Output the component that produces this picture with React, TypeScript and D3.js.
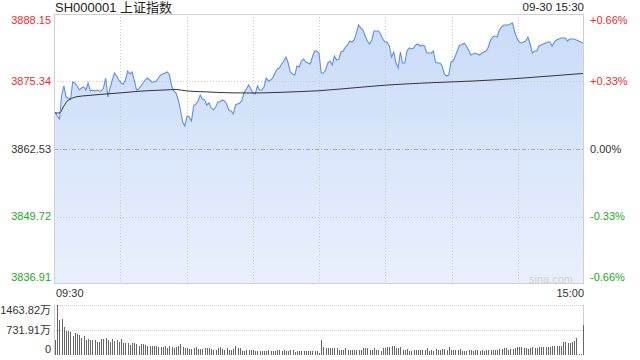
import React from "react";
import * as d3 from "d3";

const title = "SH000001 上证指数";
const stamp = "09-30 15:30";
const prevClose = 3862.53;
const priceTicks = [3888.15, 3875.34, 3862.53, 3849.72, 3836.91];
const pctTicks = ["+0.66%", "+0.33%", "0.00%", "-0.33%", "-0.66%"];
const timeLabels = ["09:30", "15:00"];
const volTicks = [1463.82, 731.91, 0];
const volTickLabels = ["1463.82万", "731.91万", "0"];

const prices = [
  3869.55, 3868.79, 3868.22, 3872.78, 3874.49, 3872.40, 3872.21, 3871.83, 3875.25, 3875.06,
  3874.49, 3873.73, 3874.11, 3874.30, 3873.73, 3875.06, 3873.54, 3873.73, 3873.54, 3873.73,
  3873.54, 3873.54, 3874.11, 3876.00, 3872.40, 3874.11, 3875.62, 3876.95, 3876.38, 3875.62,
  3875.06, 3874.87, 3875.62, 3877.33, 3876.76, 3877.14, 3875.62, 3873.73, 3873.92, 3874.49,
  3875.06, 3875.62, 3876.00, 3875.62, 3875.25, 3875.25, 3875.43, 3876.00, 3876.57, 3876.76,
  3876.95, 3877.14, 3876.57, 3874.49, 3873.54, 3873.16, 3871.83, 3869.93, 3867.65, 3866.89,
  3868.79, 3868.60, 3867.84, 3870.69, 3871.07, 3871.64, 3872.78, 3872.02, 3871.83, 3870.88,
  3871.26, 3870.31, 3869.93, 3870.50, 3871.45, 3871.45, 3871.83, 3871.64, 3871.07, 3869.93,
  3869.74, 3869.17, 3870.88, 3871.07, 3871.26, 3871.83, 3873.35, 3873.92, 3874.68, 3873.92,
  3873.16, 3872.97, 3874.49, 3873.73, 3873.73, 3874.30, 3876.00, 3875.43, 3875.62, 3876.00,
  3876.95, 3877.71, 3877.90, 3878.66, 3879.23, 3879.99, 3878.85, 3877.14, 3876.76, 3876.57,
  3878.28, 3878.09, 3879.23, 3879.61, 3879.04, 3878.85, 3878.66, 3879.99, 3881.13, 3881.13,
  3880.75, 3876.95, 3876.95, 3877.52, 3878.85, 3879.23, 3878.47, 3880.18, 3879.42, 3879.61,
  3880.94, 3881.13, 3881.89, 3882.27, 3883.03, 3882.84, 3883.22, 3884.54, 3886.06, 3885.49,
  3885.11, 3883.97, 3883.03, 3882.46, 3883.22, 3884.92, 3884.92, 3884.92, 3884.35, 3883.41,
  3882.84, 3882.84, 3882.08, 3879.99, 3880.94, 3878.85, 3877.90, 3880.94, 3878.85, 3878.85,
  3881.13, 3881.70, 3881.51, 3881.70, 3882.27, 3882.46, 3882.08, 3882.27, 3882.08, 3880.75,
  3880.75, 3880.75, 3881.13, 3879.04, 3878.85, 3878.85, 3878.28, 3876.76, 3876.38, 3876.57,
  3879.04, 3879.23, 3880.18, 3881.32, 3882.27, 3882.27, 3882.65, 3882.08, 3881.32, 3880.37,
  3880.56, 3880.75, 3880.56, 3880.37, 3880.75, 3880.94, 3881.13, 3881.89, 3883.22, 3883.78,
  3883.97, 3883.78, 3885.11, 3885.68, 3886.06, 3886.06, 3886.06, 3886.25, 3886.44, 3884.73,
  3883.60, 3882.84, 3882.65, 3882.84, 3883.03, 3883.78, 3882.46, 3880.75, 3881.13, 3881.13,
  3882.08, 3882.27, 3882.46, 3882.65, 3882.84, 3882.84, 3882.08, 3882.84, 3883.22, 3883.41,
  3883.60, 3883.60, 3883.60, 3883.03, 3883.41, 3883.41, 3883.41, 3883.22, 3883.03, 3882.84,
  3882.65,
];

const avgMinutes = [0, 2, 4, 6, 8, 10, 15, 20, 30, 40, 50, 55, 60, 70, 80, 90, 100, 110, 120, 130, 150, 170, 190, 210, 225, 240];
const avgValues = [
  3869.36, 3869.36, 3870.69, 3871.83, 3872.21, 3872.46, 3872.68, 3872.87, 3873.19, 3873.54,
  3873.73, 3873.82, 3873.54, 3873.35, 3873.19, 3873.16, 3873.25, 3873.40, 3873.59, 3873.92,
  3874.64, 3875.09, 3875.43, 3875.91, 3876.38, 3876.86,
];

const volumes = [
  440, 1463.82, 1025, 1063, 820, 703, 703, 673, 556, 635,
  605, 577, 489, 556, 439, 477, 439, 450, 439, 390,
  390, 460, 477, 507, 439, 381, 460, 420, 439, 381,
  477, 361, 342, 342, 293, 342, 342, 322, 273, 312,
  312, 293, 254, 254, 254, 273, 273, 224, 224, 244,
  273, 195, 273, 244, 195, 224, 273, 322, 224, 195,
  195, 176, 176, 195, 224, 176, 176, 176, 195, 195,
  195, 176, 156, 156, 195, 224, 176, 156, 195, 156,
  156, 176, 254, 195, 195, 127, 127, 156, 156, 156,
  156, 127, 127, 127, 127, 127, 127, 156, 127, 127,
  127, 156, 156, 127, 156, 127, 127, 156, 156, 98,
  127, 127, 127, 127, 127, 127, 127, 127, 127, 127,
  49, 449, 224, 195, 195, 195, 195, 195, 195, 156,
  156, 156, 195, 156, 156, 156, 156, 156, 156, 156,
  195, 195, 195, 156, 156, 195, 156, 156, 127, 195,
  195, 224, 224, 254, 254, 195, 195, 224, 156, 156,
  176, 127, 127, 156, 156, 156, 156, 156, 156, 205,
  127, 156, 127, 176, 156, 156, 176, 176, 156, 244,
  156, 156, 156, 156, 176, 127, 127, 127, 156, 156,
  127, 156, 156, 127, 156, 127, 156, 156, 156, 156,
  156, 156, 176, 176, 195, 195, 156, 176, 176, 195,
  244, 224, 224, 195, 195, 176, 195, 244, 205, 205,
  244, 244, 244, 224, 244, 244, 273, 254, 254, 254,
  273, 390, 371, 342, 352, 371, 420, 507, 20, 30,
  880,
];

const W = 640;
const H = 360;
const L = 54;
const R = 584;
const T = 14;
const B = 284;
const VT = 305;
const VB = 355;
const FONT = "'Liberation Sans', Arial, 'Noto Sans CJK SC', sans-serif";
const RED = "#f02b2b";
const GREEN = "#1ea81e";
const GRID = "#cccccc";

const crisp = (v: number) => Math.round(v) + 0.5;

export default function App() {
  const x = d3.scaleLinear().domain([-0.5, prices.length - 0.5]).range([L, R]);
  const y = d3.scaleLinear().domain([priceTicks[4], priceTicks[0]]).range([B, T]);
  const vy = d3.scaleLinear().domain([0, volTicks[0]]).range([VB, VT]);
  const gx = d3.scaleLinear().domain([0, 8]).range([L, R]);

  const line = d3.line<number>().x((_, i) => x(i)).y((d) => y(d));
  const area = d3.area<number>().x((_, i) => x(i)).y0(B).y1((d) => y(d));
  const avgLine = d3
    .line<number>()
    .x((_, i) => x(avgMinutes[i]))
    .y((d) => y(d))
    .curve(d3.curveMonotoneX);

  const colorFor = (v: number) => (v > prevClose ? RED : v < prevClose ? GREEN : "#333");

  return (
    <div style={{ position: "absolute", left: 0, top: 0 }}>
      <svg width={W} height={H} style={{ display: "block", fontFamily: FONT }}>
        <defs>
          <linearGradient id="fillg" x1="0" y1={T} x2="0" y2={B} gradientUnits="userSpaceOnUse">
            <stop offset="0" stopColor="#c9dbf8" />
            <stop offset="1" stopColor="#e9f0fc" />
          </linearGradient>
        </defs>
        <rect x={0} y={0} width={W} height={H} fill="#fff" />

        <text x={55} y={12} fontSize={13} fill="#222">{title}</text>
        <text x={R} y={11} fontSize={11.5} fill="#222" textAnchor="end">{stamp}</text>

        <path d={area(prices) || ""} fill="url(#fillg)" />

        {d3.range(1, 8).map((k) => (
          <line key={"vg" + k} x1={crisp(gx(k))} x2={crisp(gx(k))} y1={T} y2={B} stroke={GRID} strokeDasharray="1,2" />
        ))}
        {priceTicks.map((v, k) =>
          k === 0 || k === 4 ? null : (
            <line
              key={"hg" + k}
              x1={L}
              x2={R}
              y1={crisp(y(v))}
              y2={crisp(y(v))}
              stroke={k === 2 ? "#aaaaaa" : GRID}
              strokeDasharray={k === 2 ? "4,2,1,2" : "1,2"}
            />
          )
        )}

        <path d={line(prices) || ""} fill="none" stroke="#5b8fee" strokeWidth={1.1} />
        <path d={avgLine(avgValues) || ""} fill="none" stroke="#333" strokeWidth={1} />

        <rect x={L + 0.5} y={T + 0.5} width={R - L - 1} height={B - T - 1} fill="none" stroke="#cfcfcf" />

        <text x={573} y={283} fontSize={11} fill="#d0d0d0" textAnchor="end">sina.com</text>

        {priceTicks.map((v, k) => {
          const yy = y(v) + (k === 0 ? 6 : k === 4 ? -7 : 0);
          return (
            <g key={"pt" + k}>
              <text x={51} y={yy} dy="0.35em" fontSize={11} fill={colorFor(v)} textAnchor="end">
                {v.toFixed(2)}
              </text>
              <text x={590} y={yy} dy="0.35em" fontSize={11} fill={colorFor(v)}>
                {pctTicks[k]}
              </text>
            </g>
          );
        })}

        <text x={56} y={293} dy="0.35em" fontSize={11} fill="#333">{timeLabels[0]}</text>
        <text x={R} y={293} dy="0.35em" fontSize={11} fill="#333" textAnchor="end">{timeLabels[1]}</text>

        {volTicks.map((v, k) =>
          k === 2 ? null : (
            <line key={"vgl" + k} x1={L} x2={R} y1={crisp(vy(v))} y2={crisp(vy(v))} stroke={GRID} strokeDasharray="1,1" />
          )
        )}
        <line x1={L + 0.5} x2={L + 0.5} y1={VT} y2={VB} stroke="#cfcfcf" />
        <line x1={R - 0.5} x2={R - 0.5} y1={VT} y2={VB} stroke="#cfcfcf" />
        {volumes.map((v, i) => (
          <rect
            key={"vb" + i}
            x={Math.round(x(i))}
            y={Math.round(vy(v))}
            width={1}
            height={VB - Math.round(vy(v))}
            fill="#666"
          />
        ))}
        {volTicks.map((v, k) => {
          const yy = vy(v) + (k === 0 ? 5 : k === 2 ? -6 : 0);
          return (
            <text key={"vt" + k} x={51} y={yy} dy="0.35em" fontSize={11} fill="#333" textAnchor="end">
              {volTickLabels[k]}
            </text>
          );
        })}
      </svg>
    </div>
  );
}
